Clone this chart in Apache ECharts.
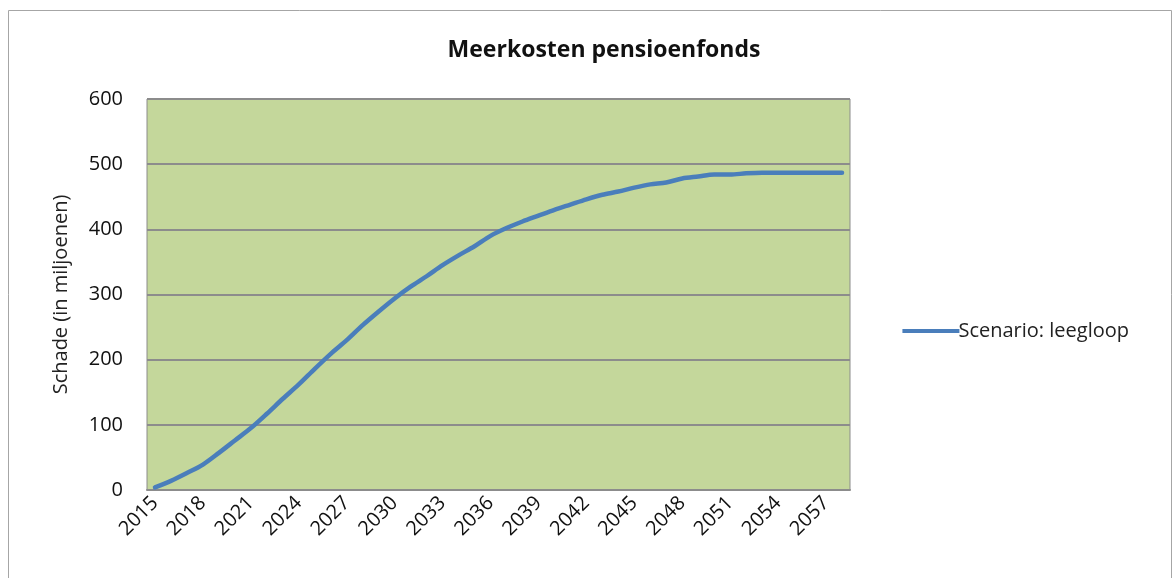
<!DOCTYPE html>
<html>
<head>
<meta charset="utf-8">
<script src="https://cdn.jsdelivr.net/npm/echarts@6/dist/echarts.min.js"></script>
<style>
  html, body { margin: 0; padding: 0; background: #fff; }
  #chart { width: 1176px; height: 578px; }
</style>
</head>
<body>
<div id="chart"></div>
<script>
// jaartallen op de x-as
const years = [];
for (let y = 2015; y <= 2058; y++) years.push(String(y));

// schade in miljoenen
const schade = [
  4, 14, 26, 39, 57, 76, 95, 117, 140, 162,
  186, 209, 230, 253, 274, 294, 312, 328, 345, 360,
  374, 390, 402, 412, 421, 430, 438, 446, 453, 458,
  464, 469, 472, 478, 481, 484, 484, 486, 487, 487,
  487, 487, 487, 487
];

const yTicks = [0, 100, 200, 300, 400, 500, 600];

const chart = echarts.init(document.getElementById('chart'));
const font = 'Open Sans, Noto Sans, sans-serif';

const option = {
  animation: false,
  textStyle: { fontFamily: font },
  graphic: [
    {
      type: 'rect',
      shape: { x: 8.5, y: 10.5, width: 1163, height: 580 },
      style: { fill: 'none', stroke: '#a6a6a6', lineWidth: 1 }
    }
  ],
  title: {
    text: 'Meerkosten pensioenfonds',
    left: 599,
    top: 34,
    textAlign: 'center',
    textStyle: { fontSize: 23, fontWeight: 'bold', color: '#111', fontFamily: font }
  },
  legend: {
    right: 42,
    top: 316,
    itemWidth: 57,
    itemHeight: 4,
    itemGap: 0,
    icon: 'rect',
    textStyle: { fontSize: 20, color: '#222', padding: [0, 0, 0, -6] },
    data: ['Scenario: leegloop']
  },
  grid: {
    left: 147,
    right: 326,
    top: 99,
    bottom: 88,
    show: true,
    backgroundColor: '#c4d79b',
    borderColor: '#8c8c8c',
    borderWidth: 1
  },
  xAxis: {
    type: 'category',
    data: years,
    boundaryGap: true,
    axisLine: { lineStyle: { color: '#8c8c8c', width: 2 } },
    axisTick: { show: false },
    axisLabel: {
      interval: 2,
      rotate: 45,
      fontSize: 20,
      color: '#111',
      margin: 10
    }
  },
  yAxis: {
    type: 'value',
    min: yTicks[0],
    max: yTicks[yTicks.length - 1],
    interval: 100,
    name: 'Schade (in miljoenen)',
    nameLocation: 'middle',
    nameGap: 76,
    nameTextStyle: { fontSize: 20, color: '#222' },
    axisLine: { show: false },
    axisTick: { show: false },
    axisLabel: { fontSize: 20, color: '#111', margin: 24 },
    splitLine: { lineStyle: { color: '#8c8c8c', width: 2 } }
  },
  series: [
    {
      name: 'Scenario: leegloop',
      type: 'line',
      data: schade,
      smooth: 0.3,
      showSymbol: false,
      lineStyle: { color: '#4a7ebb', width: 4.5, cap: 'round' },
      itemStyle: { color: '#4a7ebb' }
    }
  ]
};

chart.setOption(option);
</script>
</body>
</html>
